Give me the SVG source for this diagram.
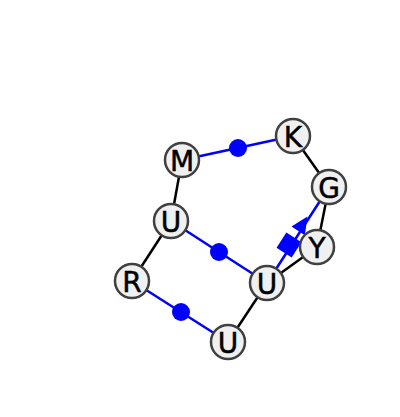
<svg xmlns="http://www.w3.org/2000/svg" width="400" height="417" viewBox="0 0 400 417">
<style>
.bb{stroke:#000;stroke-width:2.5;fill:none}
.bp{stroke:#0000ff;stroke-width:2.5;fill:none}
.dot{fill:#0000ff}
.nd circle{fill:#f0f0f0;stroke:#404040;stroke-width:2.5}
.nd text{font-family:"DejaVu Sans",sans-serif;font-size:28px;fill:#000;stroke:#000;stroke-width:0.5;text-anchor:middle;dominant-baseline:central}
</style>
<rect width="400" height="417" fill="#fff"/>
<g id="connectors">
<line class="bb" x1="182" y1="160" x2="171" y2="221"/>
<line class="bb" x1="171" y1="221" x2="132" y2="281"/>
<line class="bb" x1="293" y1="136" x2="329" y2="187"/>
<line class="bb" x1="329" y1="187" x2="317" y2="247"/>
<line class="bb" x1="317" y1="247" x2="267" y2="283"/>
<line class="bb" x1="267" y1="283" x2="228" y2="342"/>
<line class="bp" x1="182" y1="160" x2="293" y2="136"/>
<circle class="dot" cx="238" cy="148" r="9"/>
<line class="bp" x1="171" y1="221" x2="267" y2="283"/>
<circle class="dot" cx="219" cy="252" r="9"/>
<line class="bp" x1="132" y1="281" x2="228" y2="342"/>
<circle class="dot" cx="181" cy="312" r="9"/>
<line class="bp" x1="267" y1="283" x2="329" y2="187"/>
<rect class="dot" x="-9" y="-9" width="18" height="18" transform="translate(289,245) rotate(-57)"/>
<polygon class="dot" points="10,0 -7,-8 -7,8" transform="translate(302,225) rotate(-57)"/>
</g>
<g id="n1" class="nd"><circle cx="182" cy="160" r="17"/><text x="182" y="161">M</text></g>
<g id="n2" class="nd"><circle cx="293" cy="136" r="17"/><text x="293" y="137">K</text></g>
<g id="n3" class="nd"><circle cx="329" cy="187" r="17"/><text x="329" y="188">G</text></g>
<g id="n4" class="nd"><circle cx="317" cy="247" r="17"/><text x="317" y="248">Y</text></g>
<g id="n5" class="nd"><circle cx="171" cy="221" r="17"/><text x="171" y="222">U</text></g>
<g id="n6" class="nd"><circle cx="132" cy="281" r="17"/><text x="132" y="282">R</text></g>
<g id="n7" class="nd"><circle cx="267" cy="283" r="17"/><text x="267" y="284">U</text></g>
<g id="n8" class="nd"><circle cx="228" cy="342" r="17"/><text x="228" y="343">U</text></g>
</svg>
